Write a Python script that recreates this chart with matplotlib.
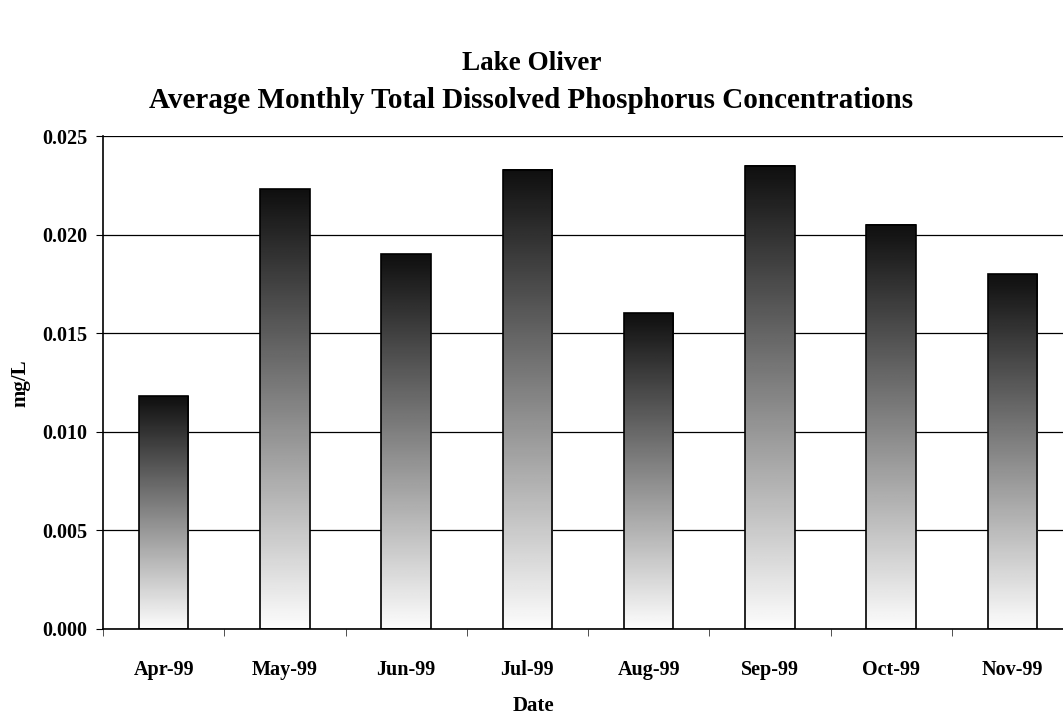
import numpy as np
import matplotlib
matplotlib.use("Agg")
import matplotlib.pyplot as plt

months = ["Apr-99", "May-99", "Jun-99", "Jul-99", "Aug-99", "Sep-99", "Oct-99", "Nov-99"]
tdp = [0.0118, 0.0223, 0.0190, 0.0233, 0.0160, 0.0235, 0.0205, 0.0180]
yticks = [0.000, 0.005, 0.010, 0.015, 0.020, 0.025]

plt.rcParams['font.family'] = ['Liberation Serif', 'DejaVu Serif']
plt.rcParams['font.weight'] = 'bold'

fig = plt.figure(figsize=(10.63, 7.19), dpi=100)
# plot area runs past the right edge, as in the reference
ax = fig.add_axes([103 / 1063, 1 - 629 / 719, 970 / 1063, 493 / 719])

width = 0.41
grad = np.linspace(0.01, 0.94, 256).reshape(-1, 1)
for i, v in enumerate(tdp):
    x0 = i + 0.5 - width / 2
    ax.imshow(grad, cmap='gray_r', vmin=0, vmax=1, aspect='auto',
              extent=[x0, x0 + width, 0, v], origin='lower', zorder=2,
              interpolation='bilinear')
    ax.add_patch(plt.Rectangle((x0, 0), width, v, fill=False,
                               edgecolor='black', linewidth=1.2, zorder=3))

ax.set_xlim(0, len(months))
ax.set_ylim(0, 0.025)
ax.set_yticks(yticks)
ax.set_yticklabels([f"{t:.3f}" for t in yticks], fontsize=14.5, fontweight='bold')
ax.set_xticks(np.arange(len(months)) + 0.5)
ax.set_xticklabels(months, fontsize=14.5, fontweight='bold')
ax.set_xticks(np.arange(len(months) + 1), minor=True)
ax.tick_params(axis='x', which='major', length=0, pad=22)
ax.tick_params(axis='x', which='minor', length=5, direction='out', color='#333333')
ax.tick_params(axis='y', length=5, direction='out', pad=6)

ax.grid(axis='y', color='black', linewidth=0.9, zorder=0)
ax.set_axisbelow(True)
for side in ['top', 'right']:
    ax.spines[side].set_visible(False)
ax.spines['left'].set_linewidth(1.2)
ax.spines['bottom'].set_linewidth(1.2)

fig.text(0.5, 1 - 64 / 719, "Lake Oliver", ha='center', va='center',
         fontsize=19.5, fontweight='bold')
fig.text(0.5, 1 - 100 / 719, "Average Monthly Total Dissolved Phosphorus Concentrations",
         ha='center', va='center', fontsize=21, fontweight='bold')
fig.text(20 / 1063, 1 - 383 / 719, "mg/L", rotation=90, ha='center', va='center',
         fontsize=15, fontweight='bold')
fig.text(533 / 1063, 1 - 706 / 719, "Date", ha='center', va='center',
         fontsize=15, fontweight='bold')

fig.savefig("out.png", dpi=100)
